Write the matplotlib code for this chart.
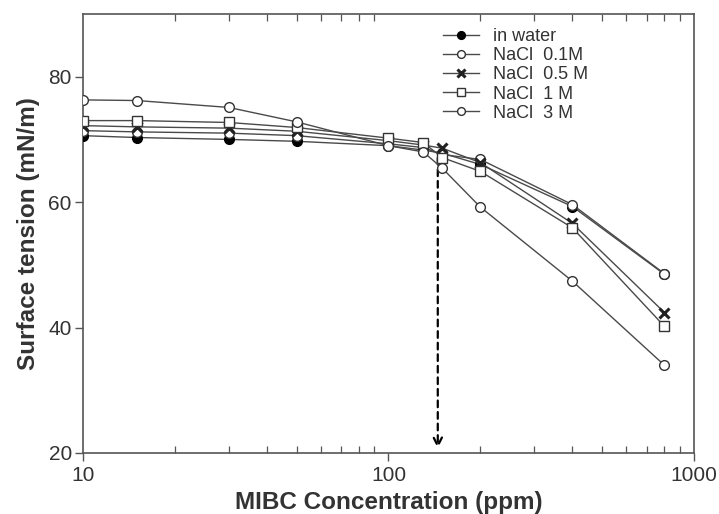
import matplotlib
matplotlib.use("Agg")
import matplotlib.pyplot as plt
from matplotlib.ticker import LogLocator, FixedLocator, NullFormatter, FuncFormatter

plt.rcParams['font.family'] = ['Liberation Sans', 'DejaVu Sans']

# MIBC concentration (ppm)
conc = [10, 15, 30, 50, 100, 130, 150, 200, 400, 800]

# surface tension (mN/m)
water = [70.6, 70.3, 70.0, 69.7, 69.0, 68.3, 67.8, 66.0, 59.3, 48.5]
nacl_01 = [71.4, 71.2, 71.0, 70.6, 69.3, 68.7, 67.6, 66.8, 59.6, 48.6]
nacl_05 = [72.2, 72.0, 71.8, 71.3, 69.8, 69.1, 68.6, 66.3, 56.6, 42.4]
nacl_1 = [73.0, 73.0, 72.7, 71.9, 70.2, 69.5, 67.1, 64.9, 55.9, 40.2]
nacl_3 = [76.3, 76.2, 75.1, 72.8, 69.0, 68.0, 65.4, 59.2, 47.4, 34.0]

labels = ['in water', 'NaCl  0.1M', 'NaCl  0.5 M', 'NaCl  1 M', 'NaCl  3 M']
cmc_x = 145

line_c = '#4a4a4a'
edge_c = '#333333'

fig = plt.figure(figsize=(7.19, 5.14), dpi=100)
ax = fig.add_axes([0.1154, 0.1187, 0.8498, 0.8541])

styles = [
    dict(marker='o', mfc='black', mec='black', ms=7),
    dict(marker='o', mfc='white', mec=edge_c, ms=7),
    dict(marker='x', mfc='none', mec='#222222', ms=7, mew=2.2),
    dict(marker='s', mfc='white', mec=edge_c, ms=7),
    dict(marker='o', mfc='white', mec=edge_c, ms=7),
]
series = [water, nacl_01, nacl_05, nacl_1, nacl_3]

handles = []
for ys, st, lab in zip(series, styles, labels):
    kw = dict(st)
    kw.setdefault('mew', 1.0)
    h, = ax.plot(conc, ys, color=line_c, lw=1.0, label=lab, zorder=3, **kw)
    handles.append(h)

# dashed arrow marking the CMC
ax.annotate('', xy=(cmc_x, 20.3), xytext=(cmc_x, 67.5),
            arrowprops=dict(arrowstyle='->', color='black', lw=1.6,
                            linestyle=(0, (3, 2.2)), mutation_scale=15),
            zorder=2)

ax.set_xscale('log')
ax.set_xlim(10, 1000)
ax.set_ylim(20, 90)
ax.yaxis.set_major_locator(FixedLocator([20, 40, 60, 80]))
ax.xaxis.set_major_locator(FixedLocator([10, 100, 1000]))
ax.xaxis.set_major_formatter(FuncFormatter(lambda v, p: f'{v:g}'))
ax.xaxis.set_minor_locator(LogLocator(base=10, subs=range(2, 10)))
ax.xaxis.set_minor_formatter(NullFormatter())

for sp in ax.spines.values():
    sp.set_color('#555555')
    sp.set_linewidth(1.2)

ax.tick_params(axis='both', which='major', direction='out', length=6,
               width=1.0, color='#555555', labelsize=15, labelcolor='#333333')
ax.tick_params(axis='x', which='minor', direction='in', length=5, width=0.9,
               color='#555555', top=True, bottom=True)
ax.tick_params(axis='y', which='both', right=False)
ax.tick_params(axis='y', which='major', pad=2)

ax.set_xlabel('MIBC Concentration (ppm)', fontsize=17.5, fontweight='bold',
              color='#333333', labelpad=4)
ax.set_ylabel('Surface tension (mN/m)', fontsize=17.5, fontweight='bold',
              color='#333333', labelpad=6)

leg = ax.legend(handles=handles, loc='upper left', bbox_to_anchor=(0.589, 0.968),
                frameon=False, fontsize=13, handlelength=2.0, handletextpad=0.78,
                labelspacing=0.12, borderpad=0, borderaxespad=0, markerscale=0.8)
for t in leg.get_texts():
    t.set_color('#333333')

fig.savefig('out.png', dpi=100)
